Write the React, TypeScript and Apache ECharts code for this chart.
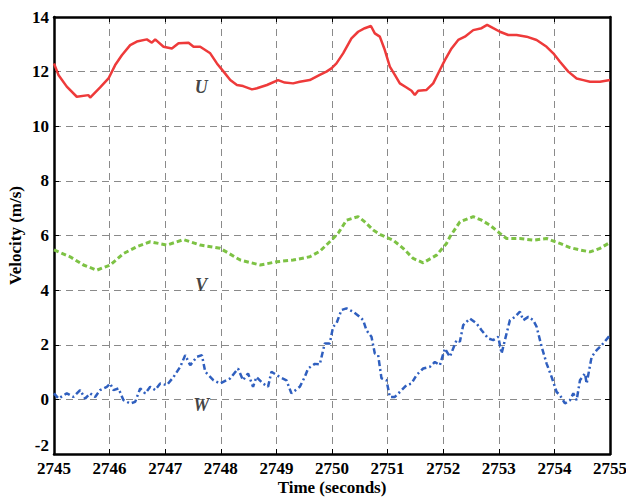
import React, { useEffect, useRef } from "react";
import * as echarts from "echarts";

const xTicks = [2745, 2746, 2747, 2748, 2749, 2750, 2751, 2752, 2753, 2754, 2755];
const yTicks = [-2, 0, 2, 4, 6, 8, 10, 12, 14];

const uTime = [2745.0, 2745.08, 2745.23, 2745.41, 2745.62, 2745.65, 2745.83, 2745.98, 2746.1, 2746.22, 2746.37, 2746.49, 2746.67, 2746.76, 2746.82, 2746.97, 2747.12, 2747.24, 2747.42, 2747.51, 2747.63, 2747.81, 2747.93, 2748.05, 2748.17, 2748.29, 2748.4, 2748.56, 2748.65, 2748.83, 2749.03, 2749.15, 2749.3, 2749.42, 2749.6, 2749.78, 2749.9, 2749.99, 2750.08, 2750.2, 2750.35, 2750.47, 2750.59, 2750.7, 2750.77, 2750.86, 2750.95, 2751.04, 2751.13, 2751.22, 2751.34, 2751.43, 2751.49, 2751.55, 2751.7, 2751.82, 2751.94, 2752.03, 2752.15, 2752.27, 2752.39, 2752.54, 2752.69, 2752.79, 2752.9, 2753.02, 2753.17, 2753.32, 2753.5, 2753.68, 2753.86, 2753.98, 2754.1, 2754.25, 2754.4, 2754.52, 2754.64, 2754.82, 2755.0];
const uVal = [12.3, 11.88, 11.45, 11.08, 11.14, 11.05, 11.42, 11.75, 12.24, 12.6, 12.97, 13.1, 13.18, 13.06, 13.18, 12.91, 12.85, 13.04, 13.06, 12.91, 12.91, 12.67, 12.3, 12.0, 11.69, 11.51, 11.47, 11.35, 11.39, 11.51, 11.69, 11.6, 11.57, 11.63, 11.69, 11.88, 12.0, 12.12, 12.3, 12.67, 13.22, 13.46, 13.59, 13.67, 13.4, 13.28, 12.79, 12.18, 11.88, 11.57, 11.42, 11.3, 11.14, 11.3, 11.33, 11.57, 12.06, 12.42, 12.85, 13.16, 13.28, 13.52, 13.59, 13.71, 13.59, 13.46, 13.34, 13.34, 13.28, 13.16, 12.91, 12.67, 12.36, 12.0, 11.75, 11.69, 11.63, 11.63, 11.69];

const vTime = [2745.0, 2745.29, 2745.53, 2745.77, 2746.01, 2746.25, 2746.49, 2746.73, 2747.03, 2747.33, 2747.63, 2747.99, 2748.35, 2748.71, 2749.01, 2749.3, 2749.6, 2749.78, 2749.99, 2750.11, 2750.26, 2750.47, 2750.59, 2750.74, 2750.89, 2751.1, 2751.28, 2751.46, 2751.64, 2751.88, 2752.06, 2752.12, 2752.3, 2752.54, 2752.69, 2752.84, 2753.02, 2753.14, 2753.38, 2753.62, 2753.86, 2754.1, 2754.28, 2754.46, 2754.64, 2754.82, 2754.97];
const vVal = [5.47, 5.22, 4.92, 4.73, 4.92, 5.34, 5.59, 5.77, 5.65, 5.85, 5.65, 5.53, 5.1, 4.92, 5.04, 5.1, 5.22, 5.42, 5.83, 6.08, 6.56, 6.69, 6.5, 6.2, 6.01, 5.83, 5.53, 5.16, 5.0, 5.28, 5.71, 5.95, 6.5, 6.69, 6.56, 6.38, 6.08, 5.89, 5.89, 5.83, 5.89, 5.71, 5.56, 5.47, 5.4, 5.53, 5.71];

const wTime = [2745.0, 2745.08, 2745.23, 2745.35, 2745.47, 2745.56, 2745.65, 2745.74, 2745.83, 2745.95, 2746.01, 2746.07, 2746.16, 2746.25, 2746.37, 2746.46, 2746.55, 2746.64, 2746.73, 2746.82, 2746.91, 2747.03, 2747.15, 2747.27, 2747.36, 2747.45, 2747.57, 2747.66, 2747.72, 2747.87, 2747.99, 2748.17, 2748.31, 2748.4, 2748.49, 2748.58, 2748.64, 2748.76, 2748.85, 2748.91, 2749.06, 2749.18, 2749.27, 2749.42, 2749.51, 2749.57, 2749.69, 2749.78, 2749.87, 2749.96, 2750.02, 2750.08, 2750.17, 2750.26, 2750.38, 2750.5, 2750.56, 2750.62, 2750.71, 2750.77, 2750.83, 2750.89, 2750.98, 2751.04, 2751.13, 2751.22, 2751.34, 2751.43, 2751.52, 2751.64, 2751.76, 2751.85, 2751.94, 2752.03, 2752.12, 2752.24, 2752.3, 2752.36, 2752.48, 2752.6, 2752.69, 2752.81, 2752.9, 2752.99, 2753.05, 2753.11, 2753.2, 2753.29, 2753.38, 2753.44, 2753.53, 2753.62, 2753.68, 2753.77, 2753.86, 2753.95, 2754.04, 2754.1, 2754.19, 2754.28, 2754.34, 2754.4, 2754.46, 2754.55, 2754.58, 2754.67, 2754.76, 2754.85, 2755.0];
const wVal = [0.22, 0.03, 0.22, 0.09, 0.34, 0.03, 0.22, 0.09, 0.34, 0.46, 0.58, 0.34, 0.4, -0.03, -0.15, -0.09, 0.4, 0.22, 0.46, 0.34, 0.58, 0.52, 0.82, 1.19, 1.62, 1.25, 1.56, 1.62, 1.01, 0.7, 0.58, 0.77, 1.13, 0.7, 0.95, 0.46, 0.82, 0.58, 0.46, 1.01, 0.82, 0.7, 0.22, 0.46, 0.82, 1.13, 1.3, 1.28, 2.05, 2.05, 2.66, 2.78, 3.27, 3.33, 3.21, 3.02, 2.9, 2.53, 2.29, 1.68, 1.62, 0.77, 0.7, 0.09, 0.09, 0.27, 0.52, 0.58, 0.89, 1.13, 1.19, 1.37, 1.25, 1.86, 1.56, 2.17, 2.11, 2.72, 2.96, 2.78, 2.53, 2.23, 2.17, 2.29, 1.68, 2.17, 2.9, 3.02, 3.21, 2.9, 3.02, 2.9, 2.66, 1.93, 1.31, 0.82, 0.27, 0.15, -0.15, -0.03, 0.22, -0.03, 0.7, 0.95, 0.58, 1.56, 1.8, 1.98, 2.35];

const seriesLabels = [
  { text: "U", t: 2747.65, v: 11.45 },
  { text: "V", t: 2747.65, v: 4.2 },
  { text: "W", t: 2747.65, v: -0.22 },
];

const FONT = "'Liberation Serif', 'Times New Roman', serif";

function zip(a: number[], b: number[]) {
  return a.map((x, i) => [x, b[i]]);
}

export default function App() {
  const ref = useRef<HTMLDivElement>(null);
  useEffect(() => {
    if (!ref.current) return;
    const chart = echarts.init(ref.current, undefined, { renderer: "svg" });
    const axisLabelStyle = { color: "#000", fontFamily: FONT, fontWeight: "bold" as const, fontSize: 17 };
    const grid = { show: true, lineStyle: { color: "#8a8a8a", type: [7, 5], width: 1 } };
    chart.setOption({
      animation: false,
      backgroundColor: "#fff",
      grid: { left: 54, right: 16, top: 17, bottom: 44, containLabel: false, outerBoundsMode: "none" },
      xAxis: [
        {
          type: "value",
          min: xTicks[0],
          max: xTicks[xTicks.length - 1],
          interval: 1,
          name: "Time (seconds)",
          nameLocation: "middle",
          nameGap: 25,
          nameMoveOverlap: false,
          nameTextStyle: { ...axisLabelStyle, fontSize: 17, lineHeight: 17 },
          axisLine: { onZero: false, lineStyle: { color: "#000", width: 2.5 } },
          axisTick: { inside: true, length: 5, lineStyle: { color: "#000", width: 1 } },
          axisLabel: { ...axisLabelStyle, margin: 6, formatter: (v: number) => String(v) },
          splitLine: grid,
        },
        {
          type: "value",
          position: "top",
          min: xTicks[0],
          max: xTicks[xTicks.length - 1],
          interval: 1,
          axisLine: { onZero: false, lineStyle: { color: "#000", width: 2.5 } },
          axisTick: { inside: true, length: 5, lineStyle: { color: "#000", width: 1 } },
          axisLabel: { show: false },
          splitLine: { show: false },
        },
      ],
      yAxis: [
        {
          type: "value",
          min: yTicks[0],
          max: yTicks[yTicks.length - 1],
          interval: 2,
          name: "Velocity (m/s)",
          nameLocation: "middle",
          nameGap: 30,
          nameMoveOverlap: false,
          nameTextStyle: { ...axisLabelStyle, fontSize: 17 },
          axisLine: { onZero: false, lineStyle: { color: "#000", width: 2.5 } },
          axisTick: { inside: true, length: 5, lineStyle: { color: "#000", width: 1 } },
          axisLabel: { ...axisLabelStyle, margin: 5, verticalAlignMinLabel: "bottom" },
          splitLine: grid,
        },
        {
          type: "value",
          position: "right",
          min: yTicks[0],
          max: yTicks[yTicks.length - 1],
          interval: 2,
          axisLine: { onZero: false, lineStyle: { color: "#000", width: 2.5 } },
          axisTick: { inside: true, length: 5, lineStyle: { color: "#000", width: 1 } },
          axisLabel: { show: false },
          splitLine: { show: false },
        },
      ],
      series: [
        {
          type: "line",
          data: zip(uTime, uVal),
          showSymbol: false,
          lineStyle: { color: "#ee3a3a", width: 2.5 },
          z: 3,
        },
        {
          type: "line",
          data: zip(vTime, vVal),
          showSymbol: false,
          lineStyle: { color: "#7dc244", width: 3, type: [5, 3] },
          z: 3,
        },
        {
          type: "line",
          data: zip(wTime, wVal),
          showSymbol: false,
          lineStyle: { color: "#2f5fbf", width: 2.5, type: [6, 3, 2, 3] },
          z: 3,
        },
        {
          type: "scatter",
          data: seriesLabels.map((l) => [l.t, l.v, l.text]),
          symbolSize: 0,
          silent: true,
          label: {
            show: true,
            position: "inside",
            formatter: (p: any) => p.data[2],
            color: "#111",
            fontFamily: FONT,
            fontStyle: "italic",
            fontWeight: "bold",
            fontSize: 18,
          },
          z: 4,
        },
      ],
    });
    return () => chart.dispose();
  }, []);
  return (
    <div
      ref={ref}
      style={{ position: "fixed", left: 0, top: 0, width: 626, height: 498, background: "#fff" }}
    />
  );
}
